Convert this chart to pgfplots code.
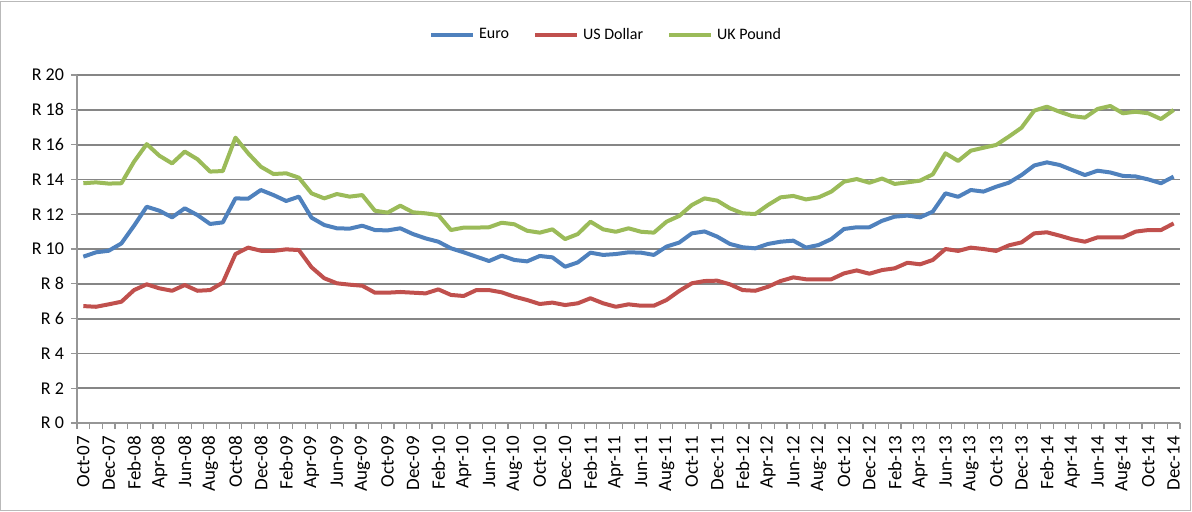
\documentclass[border=0pt]{standalone}
\usepackage{pgfplots}
\usepackage{pgfplotstable}
\pgfplotsset{compat=1.18}
\usepackage{fontspec}
\setmainfont{Carlito}
\definecolor{euro}{HTML}{4F81BD}
\definecolor{usd}{HTML}{C0504D}
\definecolor{gbp}{HTML}{9BBB59}
\definecolor{gridc}{RGB}{134,134,134}
\definecolor{axc}{RGB}{150,150,150}
\pgfplotstableread{
x euro usd gbp
0 9.56 6.72 13.78
1 9.81 6.68 13.83
2 9.90 6.82 13.76
3 10.32 6.97 13.78
4 11.34 7.64 15.02
5 12.43 7.97 16.03
6 12.20 7.74 15.36
7 11.82 7.60 14.92
8 12.34 7.93 15.60
9 11.95 7.60 15.16
10 11.44 7.64 14.45
11 11.53 8.07 14.48
12 12.91 9.71 16.40
13 12.89 10.08 15.50
14 13.39 9.90 14.73
15 13.10 9.89 14.31
16 12.76 9.98 14.35
17 13.01 9.94 14.10
18 11.80 8.95 13.20
19 11.38 8.32 12.91
20 11.19 8.03 13.16
21 11.17 7.95 13.01
22 11.34 7.89 13.10
23 11.09 7.49 12.20
24 11.07 7.49 12.09
25 11.19 7.53 12.49
26 10.86 7.49 12.11
27 10.61 7.45 12.05
28 10.42 7.68 11.95
29 10.04 7.36 11.09
30 9.81 7.30 11.23
31 9.56 7.64 11.23
32 9.31 7.64 11.25
33 9.62 7.51 11.51
34 9.37 7.26 11.42
35 9.29 7.07 11.05
36 9.60 6.84 10.94
37 9.52 6.92 11.13
38 8.98 6.78 10.57
39 9.23 6.88 10.86
40 9.79 7.17 11.57
41 9.66 6.88 11.13
42 9.71 6.68 10.99
43 9.81 6.82 11.19
44 9.79 6.74 10.99
45 9.66 6.74 10.94
46 10.14 7.07 11.57
47 10.37 7.59 11.90
48 10.90 8.03 12.53
49 11.01 8.16 12.91
50 10.71 8.18 12.78
51 10.29 7.97 12.34
52 10.10 7.64 12.05
53 10.04 7.60 12.01
54 10.29 7.83 12.53
55 10.42 8.16 12.97
56 10.48 8.37 13.05
57 10.08 8.26 12.85
58 10.23 8.26 12.97
59 10.57 8.26 13.30
60 11.15 8.60 13.87
61 11.25 8.77 14.02
62 11.25 8.58 13.81
63 11.62 8.79 14.05
64 11.86 8.89 13.74
65 11.92 9.21 13.83
66 11.82 9.12 13.93
67 12.15 9.37 14.29
68 13.20 10.00 15.50
69 13.00 9.89 15.06
70 13.39 10.08 15.65
71 13.30 10.00 15.82
72 13.58 9.89 15.98
73 13.81 10.21 16.46
74 14.25 10.38 16.97
75 14.80 10.90 17.95
76 14.98 10.96 18.18
77 14.83 10.77 17.89
78 14.54 10.56 17.64
79 14.25 10.42 17.55
80 14.50 10.67 18.05
81 14.40 10.67 18.22
82 14.20 10.67 17.80
83 14.17 11.00 17.89
84 14.00 11.09 17.80
85 13.78 11.09 17.47
86 14.16 11.47 17.99
}\rates
\begin{document}
\begin{tikzpicture}
\useasboundingbox (-38.5pt,-44pt) rectangle (557.5pt,211.5pt);
\draw[color=gray!55, line width=0.5pt] (-38pt,-43.5pt) rectangle (556.5pt,211pt);
\begin{axis}[
  at={(0,0)}, anchor=south west,
  scale only axis, width=551.5pt, height=174pt,
  xmin=-0.5, xmax=86.5, ymin=0, ymax=20,
  axis lines*=left,
  axis line style={color=axc, line width=0.8pt},
  ytick={0,2,...,20},
  yticklabels={R 0,R 2,R 4,R 6,R 8,R 10,R 12,R 14,R 16,R 18,R 20},
  ymajorgrids,
  grid style={color=gridc, line width=0.9pt},
  xtick={0,2,...,86},
  xticklabels={Oct-07,Dec-07,Feb-08,Apr-08,Jun-08,Aug-08,Oct-08,Dec-08,Feb-09,Apr-09,Jun-09,Aug-09,Oct-09,Dec-09,Feb-10,Apr-10,Jun-10,Aug-10,Oct-10,Dec-10,Feb-11,Apr-11,Jun-11,Aug-11,Oct-11,Dec-11,Feb-12,Apr-12,Jun-12,Aug-12,Oct-12,Dec-12,Feb-13,Apr-13,Jun-13,Aug-13,Oct-13,Dec-13,Feb-14,Apr-14,Jun-14,Aug-14,Oct-14,Dec-14},
  major x tick style={draw=none},
  minor xtick={-0.5,0.5,...,86.5},
  tick align=outside,
  major tick length=3pt, minor tick length=3pt,
  tick style={color=axc, line width=0.6pt},
  x tick label style={rotate=90, anchor=east, font=\fontsize{9.5}{10}\selectfont},
  y tick label style={font=\fontsize{9}{10}\selectfont},
  legend style={draw=none, at={(axis description cs:0.4805,1.115)}, anchor=center,
    font=\fontsize{8}{9}\selectfont,
    /tikz/every even column/.append style={column sep=10pt}},
  legend columns=3,
  legend image code/.code={\draw[#1, line width=2pt] (0pt,0pt) -- (21pt,0pt);},
  every axis plot/.append style={line width=2pt, line join=round},
]
\addplot[color=euro, mark=none] table[x=x, y=euro] {\rates};
\addlegendentry{Euro}
\addplot[color=usd, mark=none] table[x=x, y=usd] {\rates};
\addlegendentry{US Dollar}
\addplot[color=gbp, mark=none] table[x=x, y=gbp] {\rates};
\addlegendentry{UK Pound}
\end{axis}
\end{tikzpicture}
\end{document}
